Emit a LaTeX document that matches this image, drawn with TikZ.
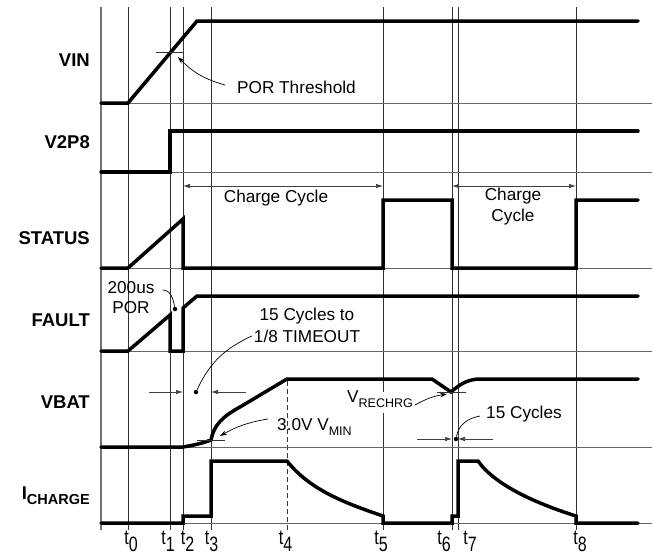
\documentclass[tikz,border=0pt]{standalone}
\usepackage{fontspec}
\setmainfont{Liberation Sans}
\usetikzlibrary{arrows.meta}
\tikzset{
  sig/.style={line width=3.5pt, line cap=round, line join=miter},
  guide/.style={line width=0.8pt, black!80},
  sep/.style={line width=0.8pt, black!60},
  lbl/.style={font=\fontsize{18.5}{20}\selectfont\bfseries, anchor=east, inner sep=0pt},
  txt/.style={font=\fontsize{17.2}{21}\selectfont, inner sep=0pt},
  tlbl/.style={font=\fontsize{16}{18}\selectfont, anchor=base, inner sep=0pt},
  note/.style={line width=0.7pt, -{Stealth[length=7pt,width=4.5pt]}},
  dim/.style={line width=0.7pt, black!75, -{Latex[length=7pt,width=4.5pt]}},
  dimboth/.style={line width=0.7pt, black!75, {Latex[length=7pt,width=4.5pt]}-{Latex[length=7pt,width=4.5pt]}},
  dot/.style={circle, fill, inner sep=0pt, minimum size=4.5pt}
}
\newcommand{\lowsub}[1]{\raisebox{-5.5pt}{\fontsize{12.5}{14}\selectfont #1}}
\newcommand{\tname}[1]{\scalebox{1}[1.3]{t\raisebox{-6pt}{#1}}}
\begin{document}
\begin{tikzpicture}[x=1pt,y=-1pt]
    \useasboundingbox (0,0) rectangle (654,557);
    %% axis and time lines
    \draw[line width=1.2pt, black!55] (101,7) -- (101,530);
    \foreach \x/\n/\dx in {128/0/3,170/1/-2,183/2/4.5,211/3/0.5,452/6/-8,458/7/12,576/8/4}{
        \draw[guide] (\x,7) -- (\x,530);
        \node[tlbl] (t\n) at (\x+\dx,544) {\tname{\n}};
    }
    \draw[guide, dash pattern=on 5pt off 3pt] (287,381) -- (287,530);
    \node[tlbl] (t4) at (285.5,544) {\tname{4}};
    \draw[guide] (383,7) -- (383,392) (383,413) -- (383,530);
    \node[tlbl] (t5) at (381,544) {\tname{5}};
    %% row baselines
    \foreach \y in {103,172,268,351,447,523}
        \draw[sep] (101,\y) -- (652,\y);
    %% signal names
    \node[lbl] (vin) at (90,60) {VIN};
    \node[lbl] (v2p8) at (90,142) {V2P8};
    \node[lbl] (status) at (90,238) {STATUS};
    \node[lbl] (fault) at (90,320) {FAULT};
    \node[lbl] (vbat) at (90,402) {VBAT};
    \node[lbl] (icharge) at (90,496) {I\raisebox{-5pt}{\fontsize{14.5}{16}\selectfont\bfseries CHARGE}};
    %% VIN
    \draw[sig] (101,103) -- (128,103) -- (197,21) -- (638,21);
    \draw[guide] (156,52) -- (183,52);
    \coordinate (porhit) at (178,57);
    \node[txt, anchor=west] (por) at (237,87) {POR Threshold};
    \draw[note] ([xshift=-12pt,yshift=2pt]por.west) to[bend left=15] (porhit);
    %% V2P8
    \draw[sig] (101,172) -- (170,172) -- (170,131) -- (638,131);
    %% STATUS
    \draw[sig] (101,268) -- (128,268) -- (183,219) -- (183,268) -- (383,268) -- (383,200)
        -- (452,200) -- (452,268) -- (576,268) -- (576,200) -- (638,200);
    \coordinate (cca) at (183,186);
    \coordinate (ccb) at (383,186);
    \coordinate (ccc) at (452,186);
    \coordinate (ccd) at (576,186);
    \draw[dimboth] (cca) -- (ccb);
    \draw[dimboth] (ccc) -- (ccd);
    \node[txt] (cycle1) at (276,198) {Charge Cycle};
    \node[txt, align=center] (cycle2) at (513,207) {Charge\\Cycle};
    %% FAULT
    \draw[sig] (101,351) -- (128,351) -- (170,315) -- (170,351) -- (183,351) -- (183,308)
        -- (197,296) -- (638,296);
    \node[txt, align=center, font=\fontsize{17.2}{20}\selectfont] (por200) at (131,298) {200us\\POR};
    \node[dot] (pordot) at (175,309) {};
    \draw[line width=0.7pt] ([xshift=8pt,yshift=8pt]por200.east) to[out=0,in=100] (pordot);
    \node[txt, align=center, font=\fontsize{17.2}{22}\selectfont] (timeout) at (307,325) {15 Cycles to\\1/8 TIMEOUT};
    \node[dot] (todot) at (196,392) {};
    \draw[line width=0.7pt] ([xshift=-2pt,yshift=-11pt]timeout.west) to[out=205,in=65] (todot);
    \coordinate (a2) at (183,392);
    \coordinate (a3) at (211,392);
    \draw[dim] ([xshift=-34pt]a2) -- (a2);
    \draw[dim] ([xshift=35pt]a3) -- (a3);
    %% VBAT
    \draw[sig] (101,447) -- (183,447) .. controls (195,445) and (203,443) .. (211,440)
        .. controls (214,425) and (222,417) .. (240,407) -- (287,379) -- (432,379) -- (451,392)
        .. controls (460,384) and (467,380) .. (478,379) -- (638,379);
    \draw[guide] (197,440) -- (225,440);
    \draw[guide] (437,392) -- (466,392);
    \coordinate (vminhit) at (220,436);
    \node[txt, anchor=base west] (vmin) at (277,430) {3.0V V\lowsub{MIN}};
    \draw[note] ([xshift=-9pt,yshift=11pt]vmin.base west) to[bend right=10] (vminhit);
    \coordinate (vrechit) at (447,394);
    \node[txt, anchor=base west] (vrech) at (347,402) {V\lowsub{RECHRG}};
    \draw[note] ([xshift=2pt,yshift=-3pt]vrech.base east) to[bend left=10] (vrechit);
    \node[txt, anchor=west] (cyc) at (486,414) {15 Cycles};
    \node[dot] (cycdot) at (456,439) {};
    \draw[line width=0.7pt] ([xshift=-6pt,yshift=-2pt]cyc.west) to[out=190,in=80] (cycdot);
    \coordinate (a6) at (452,439);
    \coordinate (a7) at (458,439);
    \draw[dim] ([xshift=-35pt]a6) -- (a6);
    \draw[dim] ([xshift=35pt]a7) -- (a7);
    %% ICHARGE
    \draw[sig] (101,523) -- (183,523) -- (183,516) -- (211,516) -- (211,461) -- (287,461)
        .. controls (310,490) and (345,503) .. (383,516) -- (383,523) -- (452,523) -- (452,516)
        -- (458,516) -- (458,461) -- (478,461) .. controls (495,485) and (535,503) .. (576,516)
        -- (576,523) -- (638,523);
\end{tikzpicture}
\end{document}
